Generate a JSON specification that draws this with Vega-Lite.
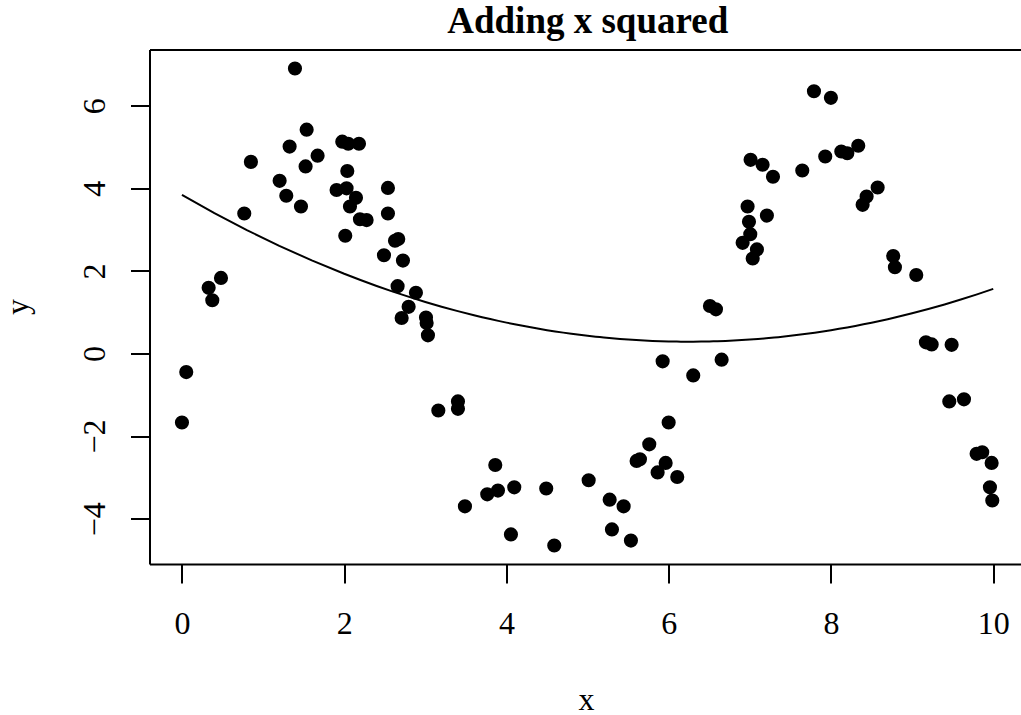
{
  "$schema": "https://vega.github.io/schema/vega-lite/v6.json",
  "autosize": {"type": "none"},
  "padding": {"left": 149.5, "top": 49.5, "right": 0, "bottom": 151},
  "width": 871.5,
  "height": 514.5,
  "background": "white",
  "config": {
    "view": {"stroke": null},
    "font": "Liberation Serif"
  },
  "title": {
    "text": "Adding x squared",
    "font": "Liberation Serif",
    "fontSize": 37,
    "fontWeight": "bold",
    "color": "black",
    "baseline": "alphabetic",
    "anchor": "middle",
    "offset": -20,
    "dx": 2.5
  },
  "data": {
    "values": [
      {"x": 1.393, "y": 6.90}, {"x": 1.537, "y": 5.42}, {"x": 1.327, "y": 5.01}, {"x": 1.672, "y": 4.79},
      {"x": 0.850, "y": 4.64}, {"x": 1.524, "y": 4.53}, {"x": 1.976, "y": 5.13}, {"x": 2.050, "y": 5.08},
      {"x": 2.182, "y": 5.08}, {"x": 2.038, "y": 4.42}, {"x": 1.204, "y": 4.18}, {"x": 2.539, "y": 4.01},
      {"x": 1.906, "y": 3.96}, {"x": 2.029, "y": 4.00}, {"x": 1.286, "y": 3.82}, {"x": 2.145, "y": 3.77},
      {"x": 1.467, "y": 3.56}, {"x": 2.071, "y": 3.56}, {"x": 0.768, "y": 3.39}, {"x": 2.539, "y": 3.39},
      {"x": 2.194, "y": 3.25}, {"x": 2.276, "y": 3.23}, {"x": 2.013, "y": 2.85}, {"x": 2.666, "y": 2.77},
      {"x": 2.626, "y": 2.73}, {"x": 2.490, "y": 2.38}, {"x": 2.724, "y": 2.25}, {"x": 0.481, "y": 1.83},
      {"x": 0.329, "y": 1.59}, {"x": 0.374, "y": 1.29}, {"x": 2.658, "y": 1.63}, {"x": 2.884, "y": 1.47},
      {"x": 2.794, "y": 1.13}, {"x": 2.708, "y": 0.86}, {"x": 3.008, "y": 0.87}, {"x": 3.016, "y": 0.74},
      {"x": 3.032, "y": 0.44}, {"x": 0.053, "y": -0.45}, {"x": 0.0, "y": -1.67}, {"x": 3.16, "y": -1.38},
      {"x": 6.508, "y": 1.15}, {"x": 6.582, "y": 1.07}, {"x": 5.925, "y": -0.19}, {"x": 6.652, "y": -0.15},
      {"x": 6.302, "y": -0.53}, {"x": 3.402, "y": -1.16}, {"x": 3.402, "y": -1.34}, {"x": 5.999, "y": -1.67},
      {"x": 5.760, "y": -2.20}, {"x": 5.604, "y": -2.60}, {"x": 5.645, "y": -2.56}, {"x": 5.962, "y": -2.65},
      {"x": 5.863, "y": -2.88}, {"x": 6.105, "y": -2.99}, {"x": 3.862, "y": -2.70}, {"x": 5.013, "y": -3.07},
      {"x": 3.763, "y": -3.41}, {"x": 3.895, "y": -3.32}, {"x": 4.096, "y": -3.24}, {"x": 4.490, "y": -3.27},
      {"x": 3.488, "y": -3.70}, {"x": 5.272, "y": -3.54}, {"x": 5.444, "y": -3.70}, {"x": 4.055, "y": -4.38},
      {"x": 5.300, "y": -4.26}, {"x": 5.534, "y": -4.53}, {"x": 4.589, "y": -4.65}, {"x": 7.790, "y": 6.35},
      {"x": 7.999, "y": 6.19}, {"x": 8.336, "y": 5.03}, {"x": 7.929, "y": 4.77}, {"x": 8.127, "y": 4.89},
      {"x": 8.201, "y": 4.85}, {"x": 7.009, "y": 4.69}, {"x": 7.157, "y": 4.57}, {"x": 7.285, "y": 4.28},
      {"x": 7.646, "y": 4.43}, {"x": 8.575, "y": 4.02}, {"x": 8.439, "y": 3.80}, {"x": 8.390, "y": 3.60},
      {"x": 6.972, "y": 3.56}, {"x": 7.210, "y": 3.34}, {"x": 6.989, "y": 3.19}, {"x": 7.005, "y": 2.89},
      {"x": 6.911, "y": 2.68}, {"x": 7.087, "y": 2.52}, {"x": 7.035, "y": 2.30}, {"x": 8.767, "y": 2.36},
      {"x": 8.788, "y": 2.09}, {"x": 9.051, "y": 1.90}, {"x": 9.170, "y": 0.27}, {"x": 9.241, "y": 0.22},
      {"x": 9.487, "y": 0.21}, {"x": 9.458, "y": -1.16}, {"x": 9.639, "y": -1.11}, {"x": 9.795, "y": -2.43},
      {"x": 9.864, "y": -2.39}, {"x": 9.980, "y": -2.65}, {"x": 9.959, "y": -3.24}, {"x": 9.988, "y": -3.56}
    ]
  },
  "layer": [
    {
      "mark": {"type": "circle", "color": "black", "opacity": 1, "size": 200},
      "encoding": {
        "x": {
          "field": "x", "type": "quantitative",
          "scale": {"domain": [-0.4, 10.342], "nice": false, "zero": false},
          "axis": {
            "orient": "bottom", "values": [0, 2, 4, 6, 8, 10], "grid": false,
            "domainColor": "black", "domainWidth": 2,
            "tickColor": "black", "tickWidth": 2, "tickSize": 19,
            "labelFont": "Liberation Serif", "labelFontSize": 32, "labelColor": "black",
            "labelBaseline": "alphabetic", "labelPadding": 50, "labelFlush": false, "labelOverlap": false,
            "title": "x", "titleFont": "Liberation Serif", "titleFontSize": 32, "titleFontWeight": "normal",
            "titleColor": "black", "titleBaseline": "alphabetic", "titleY": 145, "titleX": 436.5, "titleAnchor": "middle", "titleAlign": "center"
          }
        },
        "y": {
          "field": "y", "type": "quantitative",
          "scale": {"domain": [-5.097, 7.361], "nice": false, "zero": false},
          "axis": {
            "orient": "left", "values": [-4, -2, 0, 2, 4, 6], "grid": false,
            "domainColor": "black", "domainWidth": 2,
            "tickColor": "black", "tickWidth": 2, "tickSize": 19,
            "labelFont": "Liberation Serif", "labelFontSize": 32, "labelColor": "black",
            "labelAngle": 270, "labelAlign": "center", "labelBaseline": "alphabetic",
            "labelPadding": 26, "labelFlush": false, "labelOverlap": false,
            "title": "y", "titleFont": "Liberation Serif", "titleFontSize": 32, "titleFontWeight": "normal",
            "titleColor": "black", "titleAngle": 270, "titleBaseline": "alphabetic", "titleAlign": "center",
            "titleX": -122, "titleY": 257
          }
        }
      }
    },
    {
      "transform": [
        {"regression": "y", "on": "x", "method": "poly", "order": 2, "extent": [0, 10]}
      ],
      "mark": {"type": "line", "color": "black", "strokeWidth": 2},
      "encoding": {
        "x": {
          "field": "x", "type": "quantitative",
          "axis": {
            "orient": "top", "labels": false, "ticks": false, "grid": false, "title": null,
            "domainColor": "black", "domainWidth": 2
          }
        },
        "y": {"field": "y", "type": "quantitative"}
      }
    }
  ],
  "resolve": {"axis": {"x": "independent"}}
}
